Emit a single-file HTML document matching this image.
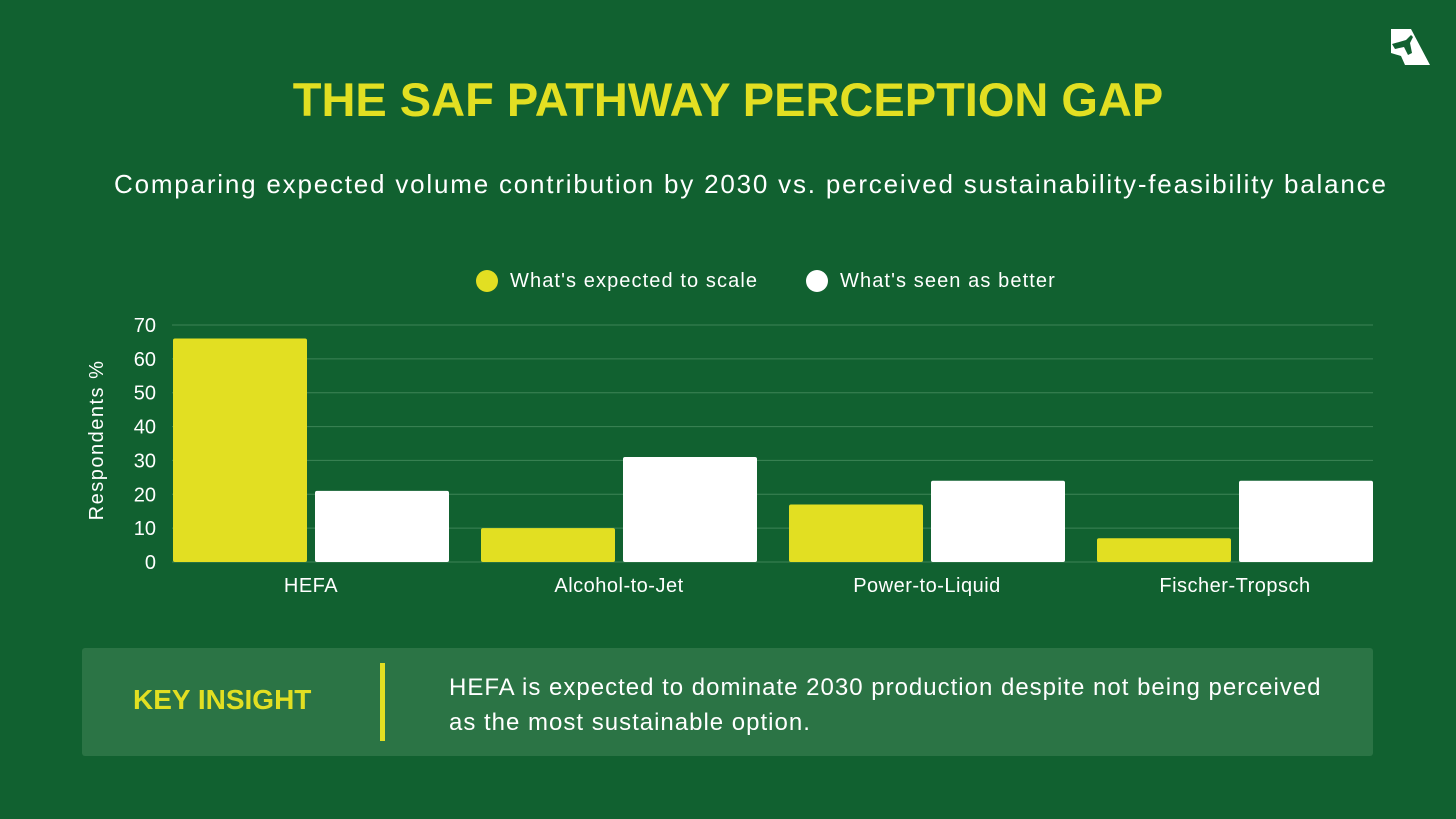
<!DOCTYPE html>
<html><head><meta charset="utf-8"><style>
html,body{margin:0;padding:0}
body{width:1456px;height:819px;background:#116130;position:relative;overflow:hidden;font-family:"Liberation Sans",sans-serif}
.t{position:absolute;white-space:nowrap}
</style></head><body>
<svg style="position:absolute;left:1380px;top:20px" width="60" height="60" viewBox="0 0 60 60">
<polygon points="11,9 31,9 50,45 25,45 21,36 11,33" fill="#fff"/>
<path d="M12,24 L26,20 L31,15 L33,17 L30,23 L32,33 L28,35 L24,27 L15,29 Z" fill="#116130"/>
</svg>
<div class="t" style="left:0;width:1456px;text-align:center;top:72px;font-size:47px;font-weight:bold;color:#e2df22">THE SAF PATHWAY PERCEPTION GAP</div>
<div class="t" style="left:114px;top:169px;font-size:26px;letter-spacing:1.8px;color:#fff">Comparing expected volume contribution by 2030 vs. perceived sustainability-feasibility balance</div>
<div class="t" style="left:476px;top:270px;font-size:20px;letter-spacing:1.1px;color:#fff"><span style="display:inline-block;width:22px;height:22px;border-radius:50%;background:#e2df22;vertical-align:-5px;margin-right:12px"></span>What's expected to scale</div>
<div class="t" style="left:806px;top:270px;font-size:20px;letter-spacing:1.1px;color:#fff"><span style="display:inline-block;width:22px;height:22px;border-radius:50%;background:#fff;vertical-align:-5px;margin-right:12px"></span>What's seen as better</div>
<svg id="chart" style="position:absolute;left:0;top:0" width="1456" height="640"></svg>
<div style="position:absolute;left:82px;top:648px;width:1291px;height:108px;background:#2b7445;border-radius:3px"></div>
<div class="t" style="left:133px;top:684px;font-size:28px;font-weight:bold;color:#e2df22">KEY INSIGHT</div>
<div style="position:absolute;left:380px;top:663px;width:5px;height:78px;background:#e2df22"></div>
<div class="t" style="left:449px;top:670px;font-size:24px;line-height:35px;letter-spacing:1px;color:#fff">HEFA is expected to dominate 2030 production despite not being perceived<br>as the most sustainable option.</div>
<script>
const categories=["HEFA","Alcohol-to-Jet","Power-to-Liquid","Fischer-Tropsch"];
const expectedValues=[66,10,17,7];
const betterValues=[21,31,24,24];
const yTicks=[0,10,20,30,40,50,60,70];
const svg=document.getElementById('chart');
const NS="http://www.w3.org/2000/svg";
const x0=172,x1=1373,y0=562,yTop=325,yMax=70;
const y=v=>y0-(v/yMax)*(y0-yTop);
const gw=308;
const bw=134,gap=8;
function el(t,a){const e=document.createElementNS(NS,t);for(const k in a)e.setAttribute(k,a[k]);svg.appendChild(e);return e;}
yTicks.forEach(v=>{
 const l=el('line',{x1:x0,x2:x1,y1:y(v),y2:y(v),stroke:'#3d8456','stroke-width':1});
 
 
 const t=el('text',{x:156,y:y(v)+7,'text-anchor':'end',fill:'#fff','font-size':20,'font-family':'Liberation Sans, sans-serif'});
 t.textContent=v;
 
 
});
const yt=el('text',{transform:'translate(103,440) rotate(-90)','text-anchor':'middle',fill:'#fff','font-size':20,'font-family':'Liberation Sans, sans-serif','letter-spacing':'1.5'});
yt.textContent='Respondents %';


categories.forEach((c,i)=>{
 const gx=x0+1+i*gw;
 const a=el('rect',{x:gx,y:y(expectedValues[i]),width:bw,height:y0-y(expectedValues[i]),fill:'#e2df22',rx:2});
 
 
 const b=el('rect',{x:gx+bw+gap,y:y(betterValues[i]),width:bw,height:y0-y(betterValues[i]),fill:'#fff',rx:2});
 
 
 const t=el('text',{x:gx+bw+gap/2,y:592,'text-anchor':'middle',fill:'#fff','font-size':20,'font-family':'Liberation Sans, sans-serif','letter-spacing':'0.5'});
 t.textContent=c;
 
 
});
</script>
</body></html>
